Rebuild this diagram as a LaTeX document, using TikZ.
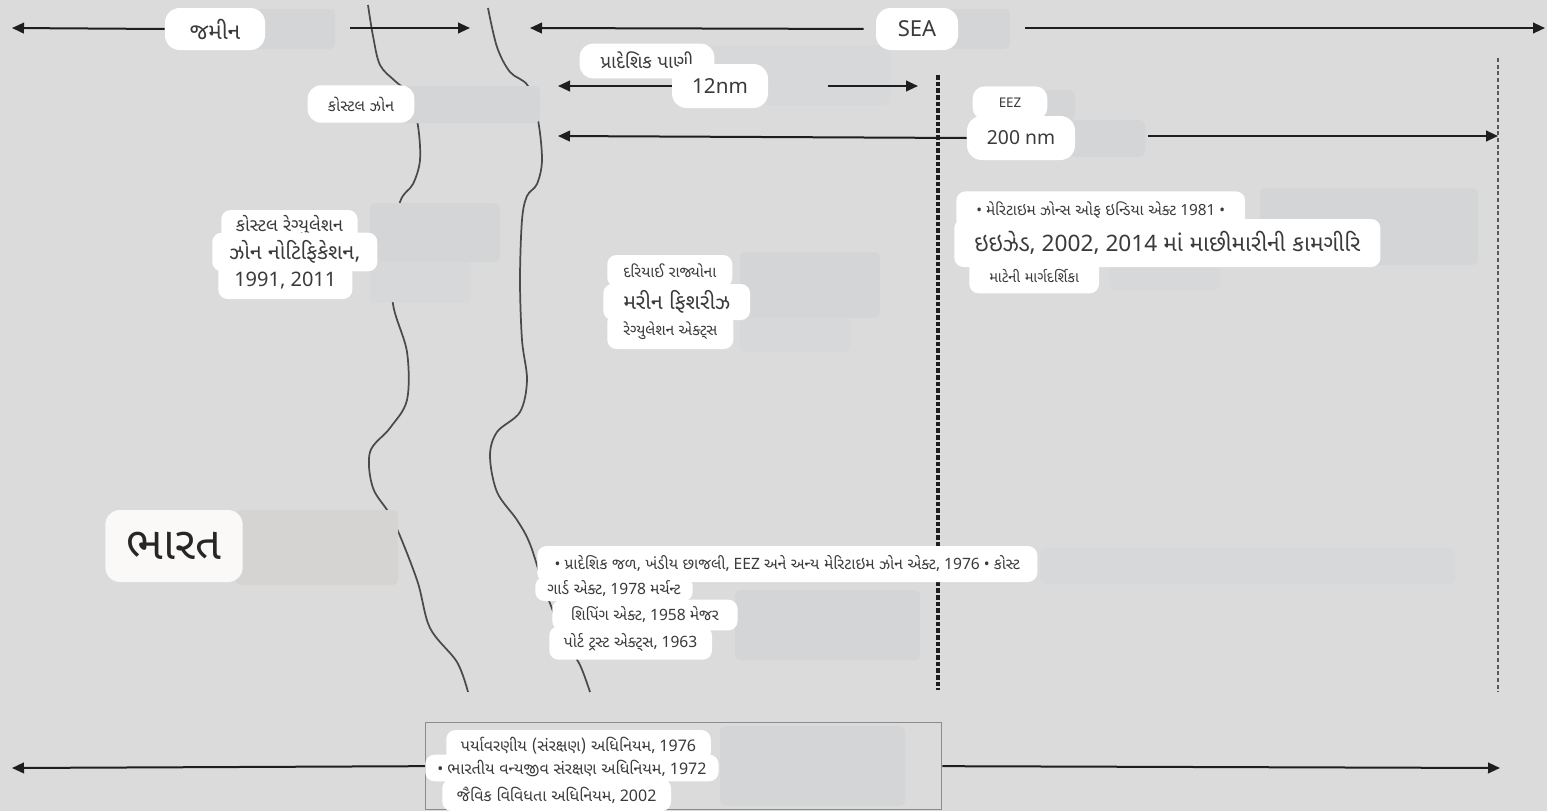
\documentclass[tikz,border=0pt]{standalone}
\usepackage{fontspec}
\setmainfont{Noto Sans}
\newfontfamily\guj[Script=Gujarati]{Noto Sans Gujarati UI}
\usetikzlibrary{arrows.meta}
\newcommand\gj[1]{{\guj #1}}
\newcommand\fsz[1]{\fontsize{#1}{#1}\selectfont}
\definecolor{bg}{HTML}{DBDBDB}
\definecolor{shad}{HTML}{D3D5D7}
\definecolor{shadlt}{HTML}{D7D8D9}
\definecolor{ink}{HTML}{1E1E1E}
\definecolor{coast}{HTML}{4A4A4A}
\definecolor{warm}{HTML}{FBF9F7}
\definecolor{warmshad}{HTML}{D6D4D2}
\definecolor{txt}{HTML}{3A3A3A}
\pgfdeclarelayer{back}
\pgfdeclarelayer{mid}
\pgfsetlayers{back,mid,main}
\begin{document}
\begin{tikzpicture}[x=0.75pt,y=-0.75pt,
  arr/.style={draw=ink, line width=1.5pt, -{Triangle[length=9pt,width=8pt]}},
  coastline/.style={draw=coast, line width=1.3pt},
  bub/.style={fill=white, text=txt, rounded corners=7pt, inner ysep=0pt, inner xsep=9pt},
  lbub/.style={bub, anchor=west},
  shadowfill/.style={fill=shad, rounded corners=4pt},
  shadowlt/.style={fill=shadlt, rounded corners=4pt},
]
\useasboundingbox (0,0) rectangle (1547,811);

% ---------- bubbles (main layer) ----------
\node[bub, rounded corners=11pt, minimum width=75pt, minimum height=31.5pt, font=\fsz{17}] (land) at (215,29) {\gj{જમીન}};
\node[bub, rounded corners=11pt, minimum width=61.5pt, minimum height=31.5pt, font=\fsz{16.5}] (sea) at (917,29) {SEA};
\node[bub, rounded corners=10pt, minimum width=101pt, minimum height=26pt, font=\fsz{14}] (pw) at (647,61) {\gj{પ્રાદેશિક પાણી}};
\node[bub, rounded corners=11pt, minimum width=72pt, minimum height=33pt, font=\fsz{15.5}] (nm12) at (720,86) {12nm};
\node[bub, rounded corners=10pt, minimum width=80pt, minimum height=28pt, font=\fsz{12}] (cz) at (361,104) {\gj{કોસ્ટલ ઝોન}};
\node[bub, rounded corners=9pt, minimum width=56pt, minimum height=25pt, font=\fsz{10}] (eezlbl) at (1010,103) {EEZ};
\node[bub, rounded corners=11pt, minimum width=81pt, minimum height=33pt, font=\fsz{14.5}] (nm200) at (1021,138) {200 nm};

\node[lbub, inner xsep=11pt, minimum height=24pt, font=\fsz{13.5}] (cr1) at (221,226) {\gj{કોસ્ટલ રેગ્યુલેશન}};
\node[lbub, inner xsep=13pt, minimum height=29pt, font=\fsz{16}] (cr2) at (212,252) {\gj{ઝોન નોટિફિકેશન,}};
\node[lbub, inner xsep=12pt, minimum height=27pt, font=\fsz{15}] (cr3) at (218,281) {1991, 2011};

\node[lbub, inner xsep=12pt, minimum height=24pt, font=\fsz{11.5}] (mf1) at (607,271) {\gj{દરિયાઈ રાજ્યોના}};
\node[lbub, inner xsep=15pt, minimum height=27pt, font=\fsz{16}] (mf2) at (603,302) {\gj{મરીન ફિશરીઝ}};
\node[lbub, inner xsep=12pt, minimum height=27pt, font=\fsz{11.5}] (mf3) at (607,331) {\gj{રેગ્યુલેશન એક્ટ્સ}};

\node[lbub, inner xsep=15pt, minimum height=28pt, font=\fsz{11.5}] (eg1) at (956,210) {• \gj{મેરિટાઇમ ઝોન્સ ઓફ ઇન્ડિયા એક્ટ} 1981 •};
\node[lbub, inner xsep=15pt, minimum height=36pt, font=\fsz{17}] (eg2) at (954,243) {\gj{ઇઇઝેડ}, 2002, 2014 \gj{માં માછીમારીની કામગીરિ}};
\node[lbub, inner xsep=15pt, minimum height=26pt, font=\fsz{11}] (eg3) at (969,276) {\gj{માટેની માર્ગદર્શિકા}};

\node[bub, fill=warm, text=black!85, rounded corners=11pt, minimum width=103pt, minimum height=54pt, font=\fsz{34}] (bharat) at (174,546) {\gj{ભારત}};

\node[lbub, inner xsep=13pt, minimum height=27pt, font=\fsz{11.7}] (bm1) at (537,564) {• \gj{પ્રાદેશિક જળ, ખંડીય છાજલી,} EEZ \gj{અને અન્ય મેરિટાઇમ ઝોન એક્ટ,} 1976 • \gj{કોસ્ટ}};
\node[lbub, inner xsep=9pt, minimum height=18pt, font=\fsz{11.7}] (bm2) at (535,589) {\gj{ગાર્ડ એક્ટ,} 1978 \gj{મર્ચન્ટ}};
\node[lbub, inner xsep=14pt, minimum height=23pt, font=\fsz{11.7}] (bm3) at (552,615) {\gj{શિપિંગ એક્ટ,} 1958 \gj{મેજર}};
\node[lbub, inner xsep=11pt, minimum height=25pt, font=\fsz{11.7}] (bm4) at (549,643) {\gj{પોર્ટ ટ્રસ્ટ એક્ટ્સ,} 1963};

\node[lbub, inner xsep=11pt, minimum height=24pt, font=\fsz{12}] (b1) at (446,746) {\gj{પર્યાવરણીય (સંરક્ષણ) અધિનિયમ,} 1976};
\node[lbub, inner xsep=9pt, minimum height=20pt, font=\fsz{12}] (b2) at (425,768) {• \gj{ભારતીય વન્યજીવ સંરક્ષણ અધિનિયમ,} 1972};
\node[lbub, inner xsep=11pt, minimum height=24pt, font=\fsz{12}] (b3) at (442,795) {\gj{જૈવિક વિવિધતા અધિનિયમ,} 2002};

% ---------- background layer ----------
\begin{pgfonlayer}{back}
\fill[bg] (0,0) rectangle (1547,811);
% coast lines
\draw[coastline] plot[smooth,tension=0.55] coordinates {(368,5) (373,36) (380,65) (395,81) (410,95) (418,126) (420,160) (413,184) (400,202) (392,250) (393,304) (407,352) (407,400) (390,428) (370,452) (373,488) (393,520) (417,580) (430,628) (457,662) (468,692)};
\draw[coastline] plot[smooth,tension=0.55] coordinates {(488,8) (497,47) (510,72) (528,86) (538,120) (542,160) (537,184) (527,196) (522,220) (520,280) (522,340) (527,380) (520,412) (497,432) (490,456) (497,492) (517,520) (530,544) (545,590) (565,640) (580,665) (590,692)};
% bottom frame
\node[draw=black!45, line width=1pt, minimum width=387pt, minimum height=65.25pt, inner sep=0pt, anchor=north west] (envbox) at (425,722) {};
% shadows
\fill[shadowfill] (250,9) rectangle (335,49);
\fill[shadowfill] (945,9) rectangle (1010,49);
\fill[shadowlt] (700,45) rectangle (890,105);
\fill[shadowfill] (400,86) rectangle (540,123);
\fill[shadowfill] (1040,90) rectangle (1075,120);
\fill[shadowfill] (1070,120) rectangle (1145,157);
\fill[shadowfill] (370,203) rectangle (500,262);
\fill[shadowlt] (370,262) rectangle (470,302);
\fill[shadowfill] (740,252) rectangle (880,318);
\fill[shadowlt] (740,318) rectangle (850,352);
\fill[shadowfill] (1260,188) rectangle (1478,265);
\fill[shadowlt] (1110,262) rectangle (1220,290);
\fill[fill=warmshad, rounded corners=4pt] (235,510) rectangle (398,585);
\fill[shadowlt] (1040,548) rectangle (1455,584);
\fill[shadowfill] (735,590) rectangle (920,660);
\fill[shadowfill] (720,726) rectangle (905,806);
\end{pgfonlayer}

% ---------- connectors ----------
\coordinate (landL) at (12,28);
\coordinate (landR0) at (350,28);
\coordinate (landR) at (470,28);
\coordinate (seaL) at (530,28);
\coordinate (seaR0) at (1025,28);
\coordinate (seaR) at (1545,28);
\coordinate (nmL) at (558,86);
\coordinate (nmR0) at (828,86);
\coordinate (nmR) at (918,86);
\coordinate (eezL) at (558,136);
\coordinate (eezR0) at (1148,136);
\coordinate (eezR) at (1498,136);
\coordinate (envL) at (12,768);
\coordinate (envR) at (1500,768);
\begin{pgfonlayer}{mid}
\draw[arr] (land.west) -- (landL);
\draw[arr] (landR0) -- (landR);
\draw[arr, shorten <=9pt] (sea.west) -- (seaL);
\draw[arr] (seaR0) -- (seaR);
\draw[arr] (nm12.west) -- (nmL);
\draw[arr] (nmR0) -- (nmR);
\draw[arr] (nm200.west) -- (eezL);
\draw[arr] (eezR0) -- (eezR);
\draw[arr] (envbox.west) -- (envL);
\draw[arr] (envbox.east) -- (envR);
% zone boundaries
\draw[ink, line width=2.3pt, dash pattern=on 3.5pt off 1.5pt] (938,75) -- (938,690);
\draw[black!65, line width=1.2pt, dash pattern=on 3pt off 2pt] (1498,58) -- (1498,692);
\end{pgfonlayer}
\end{tikzpicture}
\end{document}
